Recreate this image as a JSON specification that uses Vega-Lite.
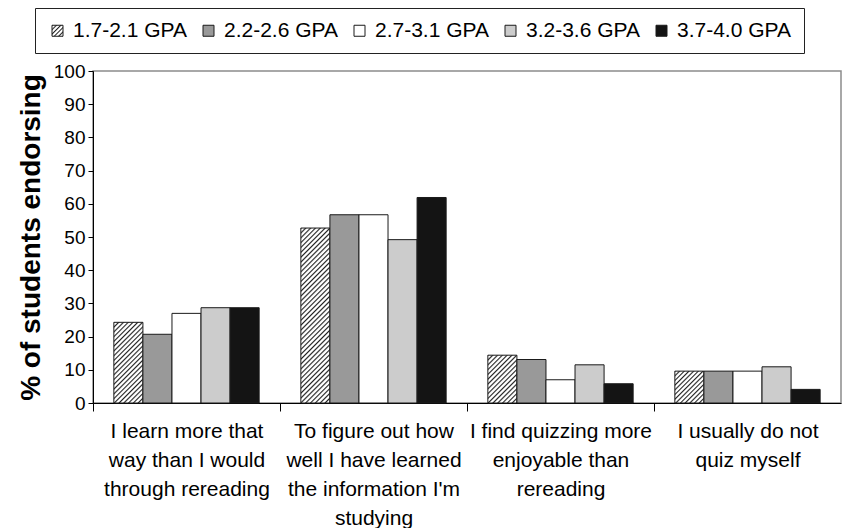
{
  "$schema": "https://vega.github.io/schema/vega-lite/v6.json",
  "autosize": "none",
  "width": 748,
  "height": 332,
  "padding": {"left": 93, "top": 71, "right": 2, "bottom": 125},
  "config": {
    "font": "Liberation Sans",
    "view": {"stroke": "#8c8c8c", "strokeWidth": 1.5},
    "axis": {"domainColor": "#000", "tickColor": "#000", "labelColor": "#000", "titleColor": "#000", "domainWidth": 1, "tickWidth": 1, "grid": false},
    "legend": {"symbolStrokeColor": "#1a1a1a", "symbolStrokeWidth": 1}
  },
  "data": {"values": [
    {"question": "I learn more that|way than I would|through rereading", "qi": 1, "gpa": "1.7-2.1 GPA", "value": 24.3},
    {"question": "I learn more that|way than I would|through rereading", "qi": 1, "gpa": "2.2-2.6 GPA", "value": 20.7},
    {"question": "I learn more that|way than I would|through rereading", "qi": 1, "gpa": "2.7-3.1 GPA", "value": 27.0},
    {"question": "I learn more that|way than I would|through rereading", "qi": 1, "gpa": "3.2-3.6 GPA", "value": 28.7},
    {"question": "I learn more that|way than I would|through rereading", "qi": 1, "gpa": "3.7-4.0 GPA", "value": 28.7},
    {"question": "To figure out how|well I have learned|the information I'm|studying", "qi": 2, "gpa": "1.7-2.1 GPA", "value": 52.7},
    {"question": "To figure out how|well I have learned|the information I'm|studying", "qi": 2, "gpa": "2.2-2.6 GPA", "value": 56.7},
    {"question": "To figure out how|well I have learned|the information I'm|studying", "qi": 2, "gpa": "2.7-3.1 GPA", "value": 56.7},
    {"question": "To figure out how|well I have learned|the information I'm|studying", "qi": 2, "gpa": "3.2-3.6 GPA", "value": 49.2},
    {"question": "To figure out how|well I have learned|the information I'm|studying", "qi": 2, "gpa": "3.7-4.0 GPA", "value": 61.9},
    {"question": "I find quizzing more|enjoyable than|rereading", "qi": 3, "gpa": "1.7-2.1 GPA", "value": 14.4},
    {"question": "I find quizzing more|enjoyable than|rereading", "qi": 3, "gpa": "2.2-2.6 GPA", "value": 13.1},
    {"question": "I find quizzing more|enjoyable than|rereading", "qi": 3, "gpa": "2.7-3.1 GPA", "value": 7.0},
    {"question": "I find quizzing more|enjoyable than|rereading", "qi": 3, "gpa": "3.2-3.6 GPA", "value": 11.5},
    {"question": "I find quizzing more|enjoyable than|rereading", "qi": 3, "gpa": "3.7-4.0 GPA", "value": 5.8},
    {"question": "I usually do not|quiz myself", "qi": 4, "gpa": "1.7-2.1 GPA", "value": 9.6},
    {"question": "I usually do not|quiz myself", "qi": 4, "gpa": "2.2-2.6 GPA", "value": 9.6},
    {"question": "I usually do not|quiz myself", "qi": 4, "gpa": "2.7-3.1 GPA", "value": 9.6},
    {"question": "I usually do not|quiz myself", "qi": 4, "gpa": "3.2-3.6 GPA", "value": 10.9},
    {"question": "I usually do not|quiz myself", "qi": 4, "gpa": "3.7-4.0 GPA", "value": 4.1}
  ]},
  "mark": {"type": "bar", "stroke": "#1a1a1a", "strokeWidth": 1},
  "encoding": {
    "x": {
      "field": "question", "type": "nominal",
      "sort": ["I learn more that|way than I would|through rereading", "To figure out how|well I have learned|the information I'm|studying", "I find quizzing more|enjoyable than|rereading", "I usually do not|quiz myself"],
      "scale": {"paddingInner": 0.223, "paddingOuter": 0.1115},
      "axis": {"title": null, "labelExpr": "split(datum.label, '|')", "labelFontSize": 21, "labelLineHeight": 29, "labelAngle": 0, "labelLimit": 400, "labelOverlap": false, "labelAlign": "center", "labelBaseline": "top", "tickSize": 8, "tickOffset": -93.5, "labelOffset": 93.5, "labelPadding": 9}
    },
    "xOffset": {
      "field": "gpa", "type": "nominal",
      "sort": ["1.7-2.1 GPA", "2.2-2.6 GPA", "2.7-3.1 GPA", "3.2-3.6 GPA", "3.7-4.0 GPA"],
      "scale": {"paddingInner": 0, "paddingOuter": 0}
    },
    "y": {
      "field": "value", "type": "quantitative",
      "scale": {"domain": [0, 100], "nice": false},
      "axis": {"title": "% of students endorsing", "values": [0, 10, 20, 30, 40, 50, 60, 70, 80, 90, 100], "tickSize": 5, "labelFontSize": 19, "labelPadding": 3, "titleFontSize": 28, "titleFontWeight": "bold", "titlePadding": 8}
    },
    "color": {
      "field": "gpa", "type": "nominal",
      "scale": {
        "domain": ["1.7-2.1 GPA", "2.2-2.6 GPA", "2.7-3.1 GPA", "3.2-3.6 GPA", "3.7-4.0 GPA"],
        "range": [
          {"expr": "{gradient: 'linear', x1: 0, y1: 0, x2: 1, y2: 1, stops: [{offset: 0, color: '#222'}, {offset: 0.07, color: '#fff'}, {offset: 0.14, color: '#fff'}, {offset: 0.2, color: '#222'}, {offset: 0.27, color: '#fff'}, {offset: 0.34, color: '#fff'}, {offset: 0.4, color: '#222'}, {offset: 0.47, color: '#fff'}, {offset: 0.54, color: '#fff'}, {offset: 0.6, color: '#222'}, {offset: 0.67, color: '#fff'}, {offset: 0.74, color: '#fff'}, {offset: 0.8, color: '#222'}, {offset: 0.87, color: '#fff'}, {offset: 0.94, color: '#fff'}, {offset: 1, color: '#222'}]}"},
          "#999999", "#ffffff", "#cccccc", "#141414"
        ]
      },
      "legend": {"orient": "none", "legendX": -58, "legendY": -63, "direction": "horizontal", "columns": 5, "title": null, "symbolType": "square", "symbolSize": 121, "symbolStrokeColor": "#1a1a1a", "symbolStrokeWidth": 1, "symbolOpacity": 1, "labelFontSize": 21, "labelColor": "#000", "labelOffset": 5, "columnPadding": 10, "padding": 12, "strokeColor": "#222", "fillColor": "#fff"},
      "condition": [
        {"test": "datum.qi === 1 && datum.gpa === '1.7-2.1 GPA'", "value": {"gradient": "linear", "x1": 0, "y1": 0, "x2": 0.4333, "y2": 1.2033, "stops": [
          {"offset": 0, "color": "#222"}, {"offset": 0.0152, "color": "#fff"}, {"offset": 0.0304, "color": "#fff"},
          {"offset": 0.0435, "color": "#222"}, {"offset": 0.0587, "color": "#fff"}, {"offset": 0.0739, "color": "#fff"},
          {"offset": 0.0870, "color": "#222"}, {"offset": 0.1022, "color": "#fff"}, {"offset": 0.1174, "color": "#fff"},
          {"offset": 0.1304, "color": "#222"}, {"offset": 0.1457, "color": "#fff"}, {"offset": 0.1609, "color": "#fff"},
          {"offset": 0.1739, "color": "#222"}, {"offset": 0.1891, "color": "#fff"}, {"offset": 0.2043, "color": "#fff"},
          {"offset": 0.2174, "color": "#222"}, {"offset": 0.2326, "color": "#fff"}, {"offset": 0.2478, "color": "#fff"},
          {"offset": 0.2609, "color": "#222"}, {"offset": 0.2761, "color": "#fff"}, {"offset": 0.2913, "color": "#fff"},
          {"offset": 0.3043, "color": "#222"}, {"offset": 0.3196, "color": "#fff"}, {"offset": 0.3348, "color": "#fff"},
          {"offset": 0.3478, "color": "#222"}, {"offset": 0.3630, "color": "#fff"}, {"offset": 0.3783, "color": "#fff"},
          {"offset": 0.3913, "color": "#222"}, {"offset": 0.4065, "color": "#fff"}, {"offset": 0.4217, "color": "#fff"},
          {"offset": 0.4348, "color": "#222"}, {"offset": 0.4500, "color": "#fff"}, {"offset": 0.4652, "color": "#fff"},
          {"offset": 0.4783, "color": "#222"}, {"offset": 0.4935, "color": "#fff"}, {"offset": 0.5087, "color": "#fff"},
          {"offset": 0.5217, "color": "#222"}, {"offset": 0.5370, "color": "#fff"}, {"offset": 0.5522, "color": "#fff"},
          {"offset": 0.5652, "color": "#222"}, {"offset": 0.5804, "color": "#fff"}, {"offset": 0.5957, "color": "#fff"},
          {"offset": 0.6087, "color": "#222"}, {"offset": 0.6239, "color": "#fff"}, {"offset": 0.6391, "color": "#fff"},
          {"offset": 0.6522, "color": "#222"}, {"offset": 0.6674, "color": "#fff"}, {"offset": 0.6826, "color": "#fff"},
          {"offset": 0.6957, "color": "#222"}, {"offset": 0.7109, "color": "#fff"}, {"offset": 0.7261, "color": "#fff"},
          {"offset": 0.7391, "color": "#222"}, {"offset": 0.7543, "color": "#fff"}, {"offset": 0.7696, "color": "#fff"},
          {"offset": 0.7826, "color": "#222"}, {"offset": 0.7978, "color": "#fff"}, {"offset": 0.8130, "color": "#fff"},
          {"offset": 0.8261, "color": "#222"}, {"offset": 0.8413, "color": "#fff"}, {"offset": 0.8565, "color": "#fff"},
          {"offset": 0.8696, "color": "#222"}, {"offset": 0.8848, "color": "#fff"}, {"offset": 0.9000, "color": "#fff"},
          {"offset": 0.9130, "color": "#222"}, {"offset": 0.9283, "color": "#fff"}, {"offset": 0.9435, "color": "#fff"},
          {"offset": 0.9565, "color": "#222"}, {"offset": 0.9717, "color": "#fff"}, {"offset": 0.9870, "color": "#fff"},
          {"offset": 1, "color": "#222"}
        ]}},
        {"test": "datum.qi === 2 && datum.gpa === '1.7-2.1 GPA'", "value": {"gradient": "linear", "x1": 0, "y1": 0, "x2": 0.18838, "y2": 1.13442, "stops": [
          {"offset": 0, "color": "#222"}, {"offset": 0.0083, "color": "#fff"}, {"offset": 0.0167, "color": "#fff"},
          {"offset": 0.0238, "color": "#222"}, {"offset": 0.0321, "color": "#fff"}, {"offset": 0.0405, "color": "#fff"},
          {"offset": 0.0476, "color": "#222"}, {"offset": 0.0560, "color": "#fff"}, {"offset": 0.0643, "color": "#fff"},
          {"offset": 0.0714, "color": "#222"}, {"offset": 0.0798, "color": "#fff"}, {"offset": 0.0881, "color": "#fff"},
          {"offset": 0.0952, "color": "#222"}, {"offset": 0.1036, "color": "#fff"}, {"offset": 0.1119, "color": "#fff"},
          {"offset": 0.1190, "color": "#222"}, {"offset": 0.1274, "color": "#fff"}, {"offset": 0.1357, "color": "#fff"},
          {"offset": 0.1429, "color": "#222"}, {"offset": 0.1512, "color": "#fff"}, {"offset": 0.1595, "color": "#fff"},
          {"offset": 0.1667, "color": "#222"}, {"offset": 0.1750, "color": "#fff"}, {"offset": 0.1833, "color": "#fff"},
          {"offset": 0.1905, "color": "#222"}, {"offset": 0.1988, "color": "#fff"}, {"offset": 0.2071, "color": "#fff"},
          {"offset": 0.2143, "color": "#222"}, {"offset": 0.2226, "color": "#fff"}, {"offset": 0.2310, "color": "#fff"},
          {"offset": 0.2381, "color": "#222"}, {"offset": 0.2464, "color": "#fff"}, {"offset": 0.2548, "color": "#fff"},
          {"offset": 0.2619, "color": "#222"}, {"offset": 0.2702, "color": "#fff"}, {"offset": 0.2786, "color": "#fff"},
          {"offset": 0.2857, "color": "#222"}, {"offset": 0.2940, "color": "#fff"}, {"offset": 0.3024, "color": "#fff"},
          {"offset": 0.3095, "color": "#222"}, {"offset": 0.3179, "color": "#fff"}, {"offset": 0.3262, "color": "#fff"},
          {"offset": 0.3333, "color": "#222"}, {"offset": 0.3417, "color": "#fff"}, {"offset": 0.3500, "color": "#fff"},
          {"offset": 0.3571, "color": "#222"}, {"offset": 0.3655, "color": "#fff"}, {"offset": 0.3738, "color": "#fff"},
          {"offset": 0.3810, "color": "#222"}, {"offset": 0.3893, "color": "#fff"}, {"offset": 0.3976, "color": "#fff"},
          {"offset": 0.4048, "color": "#222"}, {"offset": 0.4131, "color": "#fff"}, {"offset": 0.4214, "color": "#fff"},
          {"offset": 0.4286, "color": "#222"}, {"offset": 0.4369, "color": "#fff"}, {"offset": 0.4452, "color": "#fff"},
          {"offset": 0.4524, "color": "#222"}, {"offset": 0.4607, "color": "#fff"}, {"offset": 0.4690, "color": "#fff"},
          {"offset": 0.4762, "color": "#222"}, {"offset": 0.4845, "color": "#fff"}, {"offset": 0.4929, "color": "#fff"},
          {"offset": 0.5000, "color": "#222"}, {"offset": 0.5083, "color": "#fff"}, {"offset": 0.5167, "color": "#fff"},
          {"offset": 0.5238, "color": "#222"}, {"offset": 0.5321, "color": "#fff"}, {"offset": 0.5405, "color": "#fff"},
          {"offset": 0.5476, "color": "#222"}, {"offset": 0.5560, "color": "#fff"}, {"offset": 0.5643, "color": "#fff"},
          {"offset": 0.5714, "color": "#222"}, {"offset": 0.5798, "color": "#fff"}, {"offset": 0.5881, "color": "#fff"},
          {"offset": 0.5952, "color": "#222"}, {"offset": 0.6036, "color": "#fff"}, {"offset": 0.6119, "color": "#fff"},
          {"offset": 0.6190, "color": "#222"}, {"offset": 0.6274, "color": "#fff"}, {"offset": 0.6357, "color": "#fff"},
          {"offset": 0.6429, "color": "#222"}, {"offset": 0.6512, "color": "#fff"}, {"offset": 0.6595, "color": "#fff"},
          {"offset": 0.6667, "color": "#222"}, {"offset": 0.6750, "color": "#fff"}, {"offset": 0.6833, "color": "#fff"},
          {"offset": 0.6905, "color": "#222"}, {"offset": 0.6988, "color": "#fff"}, {"offset": 0.7071, "color": "#fff"},
          {"offset": 0.7143, "color": "#222"}, {"offset": 0.7226, "color": "#fff"}, {"offset": 0.7310, "color": "#fff"},
          {"offset": 0.7381, "color": "#222"}, {"offset": 0.7464, "color": "#fff"}, {"offset": 0.7548, "color": "#fff"},
          {"offset": 0.7619, "color": "#222"}, {"offset": 0.7702, "color": "#fff"}, {"offset": 0.7786, "color": "#fff"},
          {"offset": 0.7857, "color": "#222"}, {"offset": 0.7940, "color": "#fff"}, {"offset": 0.8024, "color": "#fff"},
          {"offset": 0.8095, "color": "#222"}, {"offset": 0.8179, "color": "#fff"}, {"offset": 0.8262, "color": "#fff"},
          {"offset": 0.8333, "color": "#222"}, {"offset": 0.8417, "color": "#fff"}, {"offset": 0.8500, "color": "#fff"},
          {"offset": 0.8571, "color": "#222"}, {"offset": 0.8655, "color": "#fff"}, {"offset": 0.8738, "color": "#fff"},
          {"offset": 0.8810, "color": "#222"}, {"offset": 0.8893, "color": "#fff"}, {"offset": 0.8976, "color": "#fff"},
          {"offset": 0.9048, "color": "#222"}, {"offset": 0.9131, "color": "#fff"}, {"offset": 0.9214, "color": "#fff"},
          {"offset": 0.9286, "color": "#222"}, {"offset": 0.9369, "color": "#fff"}, {"offset": 0.9452, "color": "#fff"},
          {"offset": 0.9524, "color": "#222"}, {"offset": 0.9607, "color": "#fff"}, {"offset": 0.9690, "color": "#fff"},
          {"offset": 0.9762, "color": "#222"}, {"offset": 0.9845, "color": "#fff"}, {"offset": 0.9929, "color": "#fff"},
          {"offset": 1, "color": "#222"}
        ]}},
        {"test": "datum.qi === 3 && datum.gpa === '1.7-2.1 GPA'", "value": {"gradient": "linear", "x1": 0, "y1": 0, "x2": 0.71409, "y2": 1.17459, "stops": [
          {"offset": 0, "color": "#222"}, {"offset": 0.0219, "color": "#fff"}, {"offset": 0.0438, "color": "#fff"},
          {"offset": 0.0625, "color": "#222"}, {"offset": 0.0844, "color": "#fff"}, {"offset": 0.1063, "color": "#fff"},
          {"offset": 0.125, "color": "#222"}, {"offset": 0.1469, "color": "#fff"}, {"offset": 0.1688, "color": "#fff"},
          {"offset": 0.1875, "color": "#222"}, {"offset": 0.2094, "color": "#fff"}, {"offset": 0.2313, "color": "#fff"},
          {"offset": 0.25, "color": "#222"}, {"offset": 0.2719, "color": "#fff"}, {"offset": 0.2938, "color": "#fff"},
          {"offset": 0.3125, "color": "#222"}, {"offset": 0.3344, "color": "#fff"}, {"offset": 0.3563, "color": "#fff"},
          {"offset": 0.375, "color": "#222"}, {"offset": 0.3969, "color": "#fff"}, {"offset": 0.4188, "color": "#fff"},
          {"offset": 0.4375, "color": "#222"}, {"offset": 0.4594, "color": "#fff"}, {"offset": 0.4813, "color": "#fff"},
          {"offset": 0.5, "color": "#222"}, {"offset": 0.5219, "color": "#fff"}, {"offset": 0.5438, "color": "#fff"},
          {"offset": 0.5625, "color": "#222"}, {"offset": 0.5844, "color": "#fff"}, {"offset": 0.6063, "color": "#fff"},
          {"offset": 0.625, "color": "#222"}, {"offset": 0.6469, "color": "#fff"}, {"offset": 0.6688, "color": "#fff"},
          {"offset": 0.6875, "color": "#222"}, {"offset": 0.7094, "color": "#fff"}, {"offset": 0.7313, "color": "#fff"},
          {"offset": 0.75, "color": "#222"}, {"offset": 0.7719, "color": "#fff"}, {"offset": 0.7938, "color": "#fff"},
          {"offset": 0.8125, "color": "#222"}, {"offset": 0.8344, "color": "#fff"}, {"offset": 0.8563, "color": "#fff"},
          {"offset": 0.875, "color": "#222"}, {"offset": 0.8969, "color": "#fff"}, {"offset": 0.9188, "color": "#fff"},
          {"offset": 0.9375, "color": "#222"}, {"offset": 0.9594, "color": "#fff"}, {"offset": 0.9813, "color": "#fff"},
          {"offset": 1, "color": "#222"}
        ]}},
        {"test": "datum.qi === 4 && datum.gpa === '1.7-2.1 GPA'", "value": {"gradient": "linear", "x1": 0, "y1": 0, "x2": 0.9504, "y2": 1.04329, "stops": [
          {"offset": 0, "color": "#222"}, {"offset": 0.0269, "color": "#fff"}, {"offset": 0.0538, "color": "#fff"},
          {"offset": 0.0769, "color": "#222"}, {"offset": 0.1038, "color": "#fff"}, {"offset": 0.1308, "color": "#fff"},
          {"offset": 0.1538, "color": "#222"}, {"offset": 0.1808, "color": "#fff"}, {"offset": 0.2077, "color": "#fff"},
          {"offset": 0.2308, "color": "#222"}, {"offset": 0.2577, "color": "#fff"}, {"offset": 0.2846, "color": "#fff"},
          {"offset": 0.3077, "color": "#222"}, {"offset": 0.3346, "color": "#fff"}, {"offset": 0.3615, "color": "#fff"},
          {"offset": 0.3846, "color": "#222"}, {"offset": 0.4115, "color": "#fff"}, {"offset": 0.4385, "color": "#fff"},
          {"offset": 0.4615, "color": "#222"}, {"offset": 0.4885, "color": "#fff"}, {"offset": 0.5154, "color": "#fff"},
          {"offset": 0.5385, "color": "#222"}, {"offset": 0.5654, "color": "#fff"}, {"offset": 0.5923, "color": "#fff"},
          {"offset": 0.6154, "color": "#222"}, {"offset": 0.6423, "color": "#fff"}, {"offset": 0.6692, "color": "#fff"},
          {"offset": 0.6923, "color": "#222"}, {"offset": 0.7192, "color": "#fff"}, {"offset": 0.7462, "color": "#fff"},
          {"offset": 0.7692, "color": "#222"}, {"offset": 0.7962, "color": "#fff"}, {"offset": 0.8231, "color": "#fff"},
          {"offset": 0.8462, "color": "#222"}, {"offset": 0.8731, "color": "#fff"}, {"offset": 0.9000, "color": "#fff"},
          {"offset": 0.9231, "color": "#222"}, {"offset": 0.9500, "color": "#fff"}, {"offset": 0.9769, "color": "#fff"},
          {"offset": 1, "color": "#222"}
        ]}}
      ]
    }
  }
}
